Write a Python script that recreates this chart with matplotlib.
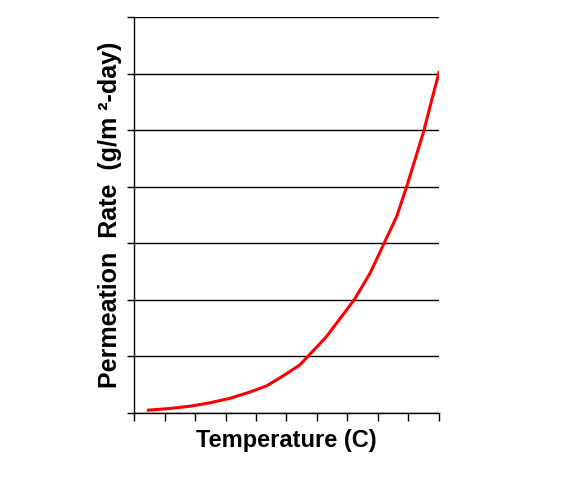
import matplotlib
matplotlib.use("Agg")
import matplotlib.pyplot as plt

plt.rcParams["font.family"] = "Liberation Sans"

# values (x in tick units, y in gridline units)
temp = [0.47, 1.18, 1.84, 2.49, 3.15, 3.80, 4.35, 4.90, 5.44, 5.70,
        6.31, 7.22, 7.74, 8.20, 8.61, 8.94, 9.21, 9.51, 9.76, 10.0]
rate = [0.05, 0.08, 0.12, 0.18, 0.26, 0.37, 0.48, 0.66, 0.85, 1.0,
        1.35, 2.0, 2.47, 3.0, 3.47, 4.0, 4.47, 5.0, 5.53, 6.02]

fig = plt.figure(figsize=(5.71, 4.79), dpi=100)
ax = fig.add_axes([0.2347, 0.1378, 0.5341, 0.8267])

ax.plot(temp, rate, color="red", linewidth=2.2)

ax.set_xlim(0, 10)
ax.set_ylim(0, 7)
ax.set_xticks(range(0, 11))
ax.set_yticks(range(0, 8))
ax.set_xticklabels([])
ax.set_yticklabels([])
ax.tick_params(axis="x", direction="out", length=6, width=1.0, colors="black")
ax.tick_params(axis="y", direction="out", length=5, width=1.0, colors="black")
ax.yaxis.grid(True, color="black", linewidth=1.0)
for s in ["top", "right"]:
    ax.spines[s].set_visible(False)
for s in ["left", "bottom"]:
    ax.spines[s].set_linewidth(1.0)

ax.set_xlabel("Temperature (C)", fontsize=17, fontweight="bold", labelpad=2)
ax.set_ylabel("Permeation  Rate  (g/m \u00b2-day)", fontsize=18, fontweight="bold", labelpad=0)

fig.savefig("out.png", dpi=100)
